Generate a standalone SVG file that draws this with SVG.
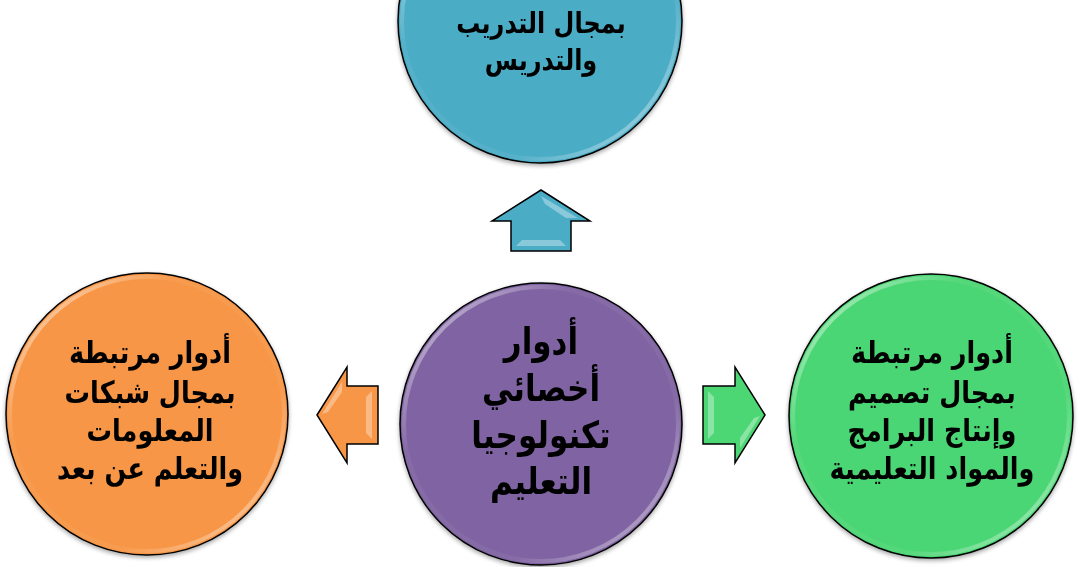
<svg xmlns="http://www.w3.org/2000/svg" width="1080" height="567" viewBox="0 0 1080 567">
<defs>
<style>
.lbl{font-family:"DejaVu Sans",sans-serif;font-weight:bold;fill:#000;text-anchor:middle;}
.s{font-size:25.5px;}
.t{font-size:24px;}
.c{font-size:31px;}
.edge{fill:none;stroke:#000;stroke-width:1.5;}
.ring{fill:none;stroke:url(#ringG);stroke-width:4;}
.arr{stroke:#000;stroke-width:1.5;stroke-linejoin:miter;}
.hl{fill:#fff;opacity:0.35;}
</style>
<linearGradient id="ringG" x1="0" y1="0" x2="1" y2="1">
<stop offset="0" stop-color="#fff" stop-opacity="0.7"/>
<stop offset="0.3" stop-color="#fff" stop-opacity="0.05"/>
<stop offset="0.7" stop-color="#fff" stop-opacity="0.05"/>
<stop offset="1" stop-color="#fff" stop-opacity="0.6"/>
</linearGradient>
<filter id="sh" x="-10%" y="-10%" width="120%" height="125%">
<feDropShadow dx="0" dy="2" stdDeviation="2" flood-color="#000" flood-opacity="0.35"/>
</filter>
</defs>
<rect width="1080" height="567" fill="#fff"/>

<g id="connectors">
<g id="arrow-up">
<polygon class="arr" fill="#4BACC6" points="541,190 590,221 571,221 571,251 511,251 511,221 492,221"/>
<polygon class="hl" points="541,196 578,218 566,218 545,204"/>
<polygon class="hl" points="516,246 566,246 560,240 522,240"/>
</g>
<g id="arrow-left">
<polygon class="arr" fill="#F79646" points="317,415 347,367 347,386 378,386 378,444 347,444 347,463"/>
<polygon class="hl" points="322,414 342,382 342,392 328,412"/>
<polygon class="hl" points="372,391 372,439 366,433 366,397"/>
</g>
<g id="arrow-right">
<polygon class="arr" fill="#4CD674" points="765,415 735,367 735,386 703,386 703,444 735,444 735,463"/>
<polygon class="hl" points="708,391 708,439 714,433 714,397"/>
<polygon class="hl" points="760,416 740,448 740,438 754,418"/>
</g>
</g>

<g id="node-top" filter="url(#sh)">
<circle cx="540" cy="21" r="142" fill="#4BACC6"/>
<circle class="ring" cx="540" cy="21" r="138"/>
<circle class="edge" cx="540" cy="21" r="142"/>
<text class="lbl t" transform="translate(541,33) scale(1,1.2)">بمجال التدريب</text>
<text class="lbl t" transform="translate(541,70) scale(1,1.2)">والتدريس</text>
</g>

<g id="node-center" filter="url(#sh)">
<circle cx="541" cy="424" r="141" fill="#8064A2"/>
<circle class="ring" cx="541" cy="424" r="137"/>
<circle class="edge" cx="541" cy="424" r="141"/>
<text class="lbl c" transform="translate(541,354) scale(1,1.2)">أدوار</text>
<text class="lbl c" transform="translate(541,401) scale(1,1.2)">أخصائي</text>
<text class="lbl c" transform="translate(541,448) scale(1,1.2)">تكنولوجيا</text>
<text class="lbl c" transform="translate(541,494) scale(1,1.2)">التعليم</text>
</g>

<g id="node-left" filter="url(#sh)">
<circle cx="147" cy="414" r="141" fill="#F79646"/>
<circle class="ring" cx="147" cy="414" r="137"/>
<circle class="edge" cx="147" cy="414" r="141"/>
<text class="lbl s" transform="translate(150,363) scale(1,1.2)">أدوار مرتبطة</text>
<text class="lbl s" transform="translate(150,403) scale(1,1.2)">بمجال شبكات</text>
<text class="lbl s" transform="translate(150,441) scale(1,1.2)">المعلومات</text>
<text class="lbl s" transform="translate(150,479) scale(1,1.2)">والتعلم عن بعد</text>
</g>

<g id="node-right" filter="url(#sh)">
<circle cx="931" cy="416" r="142" fill="#4CD674"/>
<circle class="ring" cx="931" cy="416" r="138"/>
<circle class="edge" cx="931" cy="416" r="142"/>
<text class="lbl s" transform="translate(932,363) scale(1,1.2)">أدوار مرتبطة</text>
<text class="lbl s" transform="translate(932,403) scale(1,1.2)">بمجال تصميم</text>
<text class="lbl s" transform="translate(932,441) scale(1,1.2)">وإنتاج البرامج</text>
<text class="lbl s" transform="translate(932,479) scale(1,1.2)">والمواد التعليمية</text>
</g>
</svg>
